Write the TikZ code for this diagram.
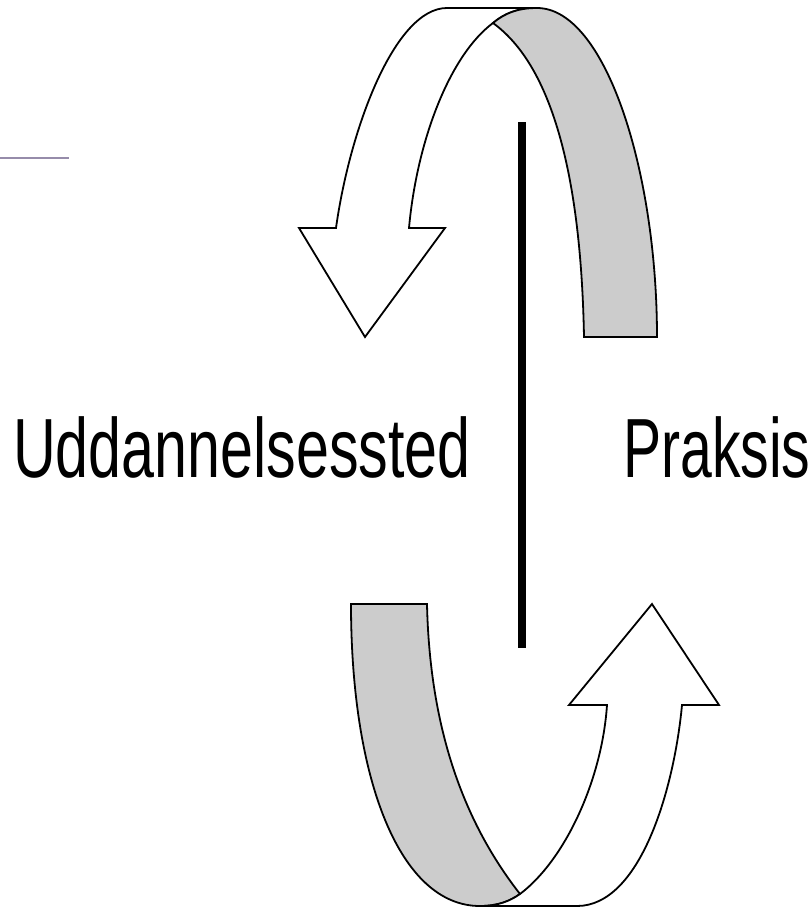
\documentclass[tikz,border=0pt]{standalone}
\usepackage{fontspec}
\setmainfont{Liberation Sans}
\newfontfamily\condensed[FakeStretch=0.68]{Liberation Sans}
\newfontfamily\condensedb[FakeStretch=0.705]{Liberation Sans}
\definecolor{bandgrey}{HTML}{CCCCCC}
\definecolor{rulecol}{RGB}{150,140,170}
\begin{document}
\begin{tikzpicture}[x=1pt,y=-1pt,
  band/.style={draw=black,line width=1.8pt,line join=miter},
  label/.style={font=\condensed\fontsize{84}{100}\selectfont,inner sep=0pt},
  labelb/.style={font=\condensedb\fontsize{84}{100}\selectfont,inner sep=0pt}]
\useasboundingbox (0,0) rectangle (811,908);
% decorative line at left
\draw[rulecol,line width=1.8pt] (0,158) -- (69,158);
% top arrow: white front band with head
\draw[band,fill=white] (299,228) -- (336,228)
  .. controls (350,128) and (395,8) .. (447,8) -- (537,8)
  .. controls (518,8) and (505,13) .. (493,23)
  .. controls (450,55) and (417,140) .. (409,228)
  -- (445,228) -- (365,337) -- cycle;
% top arrow: grey back band
\draw[band,fill=bandgrey] (493,23)
  .. controls (505,13) and (518,8) .. (537,8)
  .. controls (605,8) and (657,170) .. (657,337)
  -- (584,337)
  .. controls (580,120) and (530,50) .. (493,23) -- cycle;
% bottom arrow: grey back band
\draw[band,fill=bandgrey] (351,604) -- (427,604)
  .. controls (430,740) and (470,830) .. (520,894)
  .. controls (510,901) and (498,906) .. (480,906)
  .. controls (400,906) and (351,780) .. (351,604) -- cycle;
% bottom arrow: white front band with head
\draw[band,fill=white] (652,604) -- (719,705) -- (682,705)
  .. controls (674,790) and (640,906) .. (577,906) -- (480,906)
  .. controls (498,906) and (510,901) .. (520,894)
  .. controls (565,860) and (602,780) .. (607,705)
  -- (569,705) -- cycle;
% dividing bar
\coordinate (bartop) at (522,122);
\coordinate (barbot) at (522,648);
\draw[line width=8pt] (bartop) -- (barbot);
% labels
\node[labelb,anchor=base east] (udd) at (471,477) {Uddannelsessted};
\node[label,anchor=base west] (prak) at (623,477) {Praksis};
\end{tikzpicture}
\end{document}
